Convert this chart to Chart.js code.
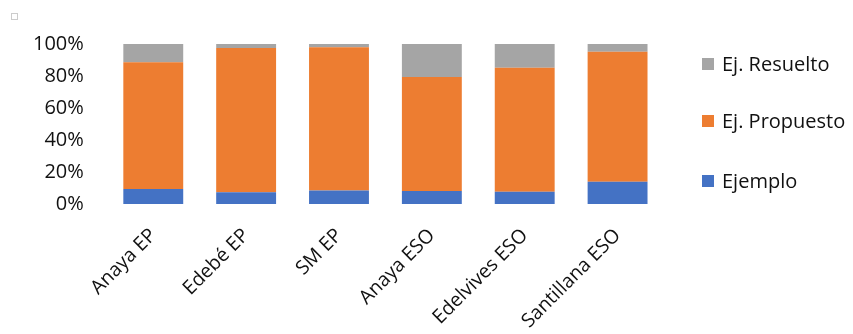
<!DOCTYPE html>
<html>
<head>
<meta charset="utf-8">
<script src="https://cdn.jsdelivr.net/npm/chart.js@4"></script>
<style>
  html, body { margin: 0; padding: 0; background: #fff; }
  #wrap { position: relative; width: 853px; height: 334px; }
  #legend { position: absolute; left: 702px; top: 0; margin: 0; padding: 0; list-style: none;
    font-family: "Open Sans", sans-serif; font-size: 20px; color: #111; }
  #legend li { position: absolute; white-space: nowrap; display: flex; align-items: center; }
  #legend span.box { width: 12px; height: 12px; margin-right: 8px; display: inline-block; }
  #corner { position: absolute; left: 11px; top: 13px; width: 5px; height: 5px; border: 1px solid #ccc; }
</style>
</head>
<body>
<div id="wrap">
  <canvas id="chart" width="853" height="334"></canvas>
  <div id="corner"></div>
  <ul id="legend"></ul>
</div>
<script>
const categories = ["Anaya EP", "Edebé EP", "SM EP", "Anaya ESO", "Edelvives ESO", "Santillana ESO"];
const ejemplo = [9.4, 7.3, 8.5, 8.1, 7.7, 13.9];
const propuesto = [79.2, 90.2, 89.4, 71.3, 77.5, 81.3];
const resuelto = [11.4, 2.5, 2.1, 20.6, 14.8, 4.8];
const seriesNames = ["Ejemplo", "Ej. Propuesto", "Ej. Resuelto"];
const seriesColors = ["#4472C4", "#ED7D31", "#A5A5A5"];

document.addEventListener("DOMContentLoaded", () => {
  const values = [ejemplo, propuesto, resuelto];
  const datasets = seriesNames.map((name, i) => ({
    label: name,
    data: values[i],
    backgroundColor: seriesColors[i],
    barPercentage: 0.645,
    categoryPercentage: 1,
  }));

  // legend, top to bottom in reverse series order
  const legendContainer = document.getElementById("legend");
  const legendTops = [64, 121, 181];
  [2, 1, 0].forEach((idx, row) => {
    const li = document.createElement("li");
    li.style.top = legendTops[row] - 14 + "px";
    li.innerHTML = `<span class="box" style="background-color: ${seriesColors[idx]};"></span><span>${seriesNames[idx]}</span>`;
    legendContainer.appendChild(li);
  });

  new Chart(document.getElementById("chart").getContext("2d"), {
    type: "bar",
    data: { labels: categories, datasets: datasets },
    options: {
      responsive: false,
      animation: false,
      layout: { padding: { left: 10, right: 189, top: 44, bottom: 0 } },
      plugins: { legend: { display: false }, tooltip: { enabled: false } },
      scales: {
        x: {
          stacked: true,
          grid: { display: false, drawTicks: false },
          border: { display: false },
          ticks: {
            color: "#111",
            font: { family: "'Open Sans', sans-serif", size: 19.5 },
            minRotation: 45,
            maxRotation: 45,
            padding: 20,
          },
          afterFit: (scale) => {
            scale.height = 130;
            scale.paddingLeft = 0;
          },
        },
        y: {
          stacked: true,
          min: 0,
          max: 100,
          grid: { display: false, drawTicks: false },
          border: { display: false },
          ticks: {
            stepSize: 20,
            color: "#111",
            font: { family: "'Open Sans', sans-serif", size: 20 },
            padding: 23,
            callback: (v) => v + "%",
          },
        },
      },
    },
  });
});
</script>
</body>
</html>
